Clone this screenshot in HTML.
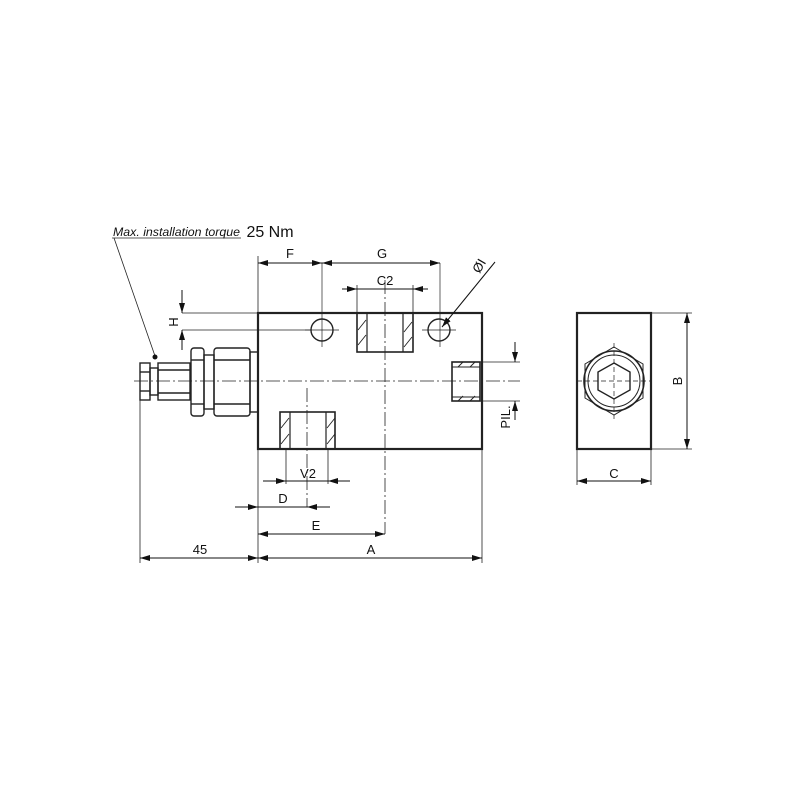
<!DOCTYPE html>
<html><head><style>html,body{margin:0;padding:0;background:#fff}svg{display:block}</style></head><body>
<svg width="800" height="800" viewBox="0 0 800 800" xmlns="http://www.w3.org/2000/svg" font-family="Liberation Sans, sans-serif">
<defs>
<marker id="a" viewBox="0 0 10 6" refX="10" refY="3" markerWidth="10" markerHeight="6" orient="auto-start-reverse" markerUnits="userSpaceOnUse"><path d="M0,0L10,3L0,6z" fill="#111"/></marker>
</defs>
<rect width="800" height="800" fill="#fff"/>
<g stroke="#222" fill="none">
<rect x="258" y="313" width="224" height="136" stroke-width="2.2"/>
<rect x="357" y="313" width="56" height="39" stroke-width="1.6"/>
<line x1="367" y1="313" x2="367" y2="352" stroke-width="1.2"/><line x1="403" y1="313" x2="403" y2="352" stroke-width="1.2"/>
<path d="M358,330l8,-10M358,345l8,-10M404,332l8,-10M404,347l8,-10" stroke-width="0.9"/>
<rect x="280" y="412" width="55" height="37" stroke-width="1.6"/>
<line x1="290" y1="412" x2="290" y2="449" stroke-width="1.2"/><line x1="326" y1="412" x2="326" y2="449" stroke-width="1.2"/>
<path d="M281,428l8,-10M281,444l8,-10M327,428l8,-10M327,444l8,-10" stroke-width="0.9"/>
<rect x="452" y="362" width="28" height="39" stroke-width="1.6"/>
<line x1="452" y1="367" x2="480" y2="367"/><line x1="452" y1="397" x2="480" y2="397"/>
<path d="M458,367l5,-5M470,367l5,-5M458,401l5,-5M470,401l5,-5" stroke-width="0.9"/>
<circle cx="322" cy="330" r="11" stroke-width="1.4"/>
<circle cx="439" cy="330" r="11" stroke-width="1.4"/>
<g stroke-width="0.7">
<line x1="305" y1="330" x2="339" y2="330"/><line x1="322" y1="263" x2="322" y2="347"/>
<line x1="422" y1="330" x2="456" y2="330"/><line x1="440" y1="263" x2="440" y2="347"/>
</g>
<g stroke-width="1.4">
<rect x="140" y="363" width="10" height="37"/>
<line x1="140" y1="372" x2="150" y2="372"/><line x1="140" y1="391" x2="150" y2="391"/>
<rect x="150" y="368" width="8" height="27"/>
<rect x="158" y="363" width="32" height="37"/>
<line x1="158" y1="370" x2="190" y2="370"/><line x1="158" y1="393" x2="190" y2="393"/>
<rect x="191" y="348" width="13" height="68" rx="3"/>
<line x1="191" y1="360" x2="204" y2="360"/><line x1="191" y1="404" x2="204" y2="404"/>
<rect x="204" y="355" width="10" height="54"/>
<rect x="214" y="348" width="36" height="68" rx="3"/>
<line x1="214" y1="360" x2="250" y2="360"/><line x1="214" y1="404" x2="250" y2="404"/>
<rect x="250" y="352" width="8" height="60"/>
</g>
<g stroke-width="0.8" stroke-dasharray="14,3,2,3">
<line x1="134" y1="381" x2="520" y2="381"/>
<line x1="385" y1="280" x2="385" y2="534"/>
<line x1="307" y1="388" x2="307" y2="507"/>
</g>
<rect x="577" y="313" width="74" height="136" stroke-width="2.2"/>
<circle cx="614" cy="381" r="30" stroke-width="1.6"/>
<polygon points="614,347 643,364 643,398 614,415 585,398 585,364" stroke-width="1"/>
<circle cx="614" cy="381" r="26" stroke-width="1"/>
<polygon points="614,363 630,372 630,390 614,399 598,390 598,372" stroke-width="1.4"/>
<line x1="577" y1="381" x2="651" y2="381" stroke-width="0.7" stroke-dasharray="5,3"/>
<line x1="614" y1="343" x2="614" y2="419" stroke-width="0.7" stroke-dasharray="5,3"/>
<g stroke-width="0.8">
<line x1="258" y1="256" x2="258" y2="313"/>
<line x1="182" y1="313" x2="258" y2="313"/><line x1="182" y1="330" x2="311" y2="330"/>
<line x1="413" y1="285" x2="413" y2="313"/><line x1="357" y1="285" x2="357" y2="313"/>
<line x1="480" y1="362" x2="520" y2="362"/><line x1="480" y1="401" x2="520" y2="401"/>
<line x1="140" y1="400" x2="140" y2="563"/>
<line x1="258" y1="449" x2="258" y2="563"/>
<line x1="482" y1="449" x2="482" y2="563"/>
<line x1="286" y1="449" x2="286" y2="484"/><line x1="328" y1="449" x2="328" y2="484"/>
<line x1="651" y1="313" x2="692" y2="313"/><line x1="651" y1="449" x2="692" y2="449"/>
<line x1="577" y1="449" x2="577" y2="485"/><line x1="651" y1="449" x2="651" y2="485"/>
</g>
<g stroke-width="1" stroke="#111">
<line x1="258" y1="263" x2="322" y2="263" marker-start="url(#a)" marker-end="url(#a)"/>
<line x1="322" y1="263" x2="440" y2="263" marker-start="url(#a)" marker-end="url(#a)"/>
<line x1="342" y1="289" x2="357" y2="289" marker-end="url(#a)"/>
<line x1="428" y1="289" x2="413" y2="289" marker-end="url(#a)"/>
<line x1="357" y1="289" x2="413" y2="289"/>
<line x1="182" y1="290" x2="182" y2="313" marker-end="url(#a)"/>
<line x1="182" y1="350" x2="182" y2="330" marker-end="url(#a)"/>
<line x1="515" y1="342" x2="515" y2="362" marker-end="url(#a)"/>
<line x1="515" y1="420" x2="515" y2="401" marker-end="url(#a)"/>
<line x1="263" y1="481" x2="286" y2="481" marker-end="url(#a)"/>
<line x1="350" y1="481" x2="328" y2="481" marker-end="url(#a)"/>
<line x1="286" y1="481" x2="328" y2="481"/>
<line x1="235" y1="507" x2="258" y2="507" marker-end="url(#a)"/>
<line x1="330" y1="507" x2="307" y2="507" marker-end="url(#a)"/>
<line x1="258" y1="507" x2="307" y2="507"/>
<line x1="258" y1="534" x2="385" y2="534" marker-start="url(#a)" marker-end="url(#a)"/>
<line x1="140" y1="558" x2="258" y2="558" marker-start="url(#a)" marker-end="url(#a)"/>
<line x1="258" y1="558" x2="482" y2="558" marker-start="url(#a)" marker-end="url(#a)"/>
<line x1="687" y1="313" x2="687" y2="449" marker-start="url(#a)" marker-end="url(#a)"/>
<line x1="577" y1="481" x2="651" y2="481" marker-start="url(#a)" marker-end="url(#a)"/>
<line x1="495" y1="262" x2="442" y2="327" marker-end="url(#a)"/>
</g>
<line x1="112" y1="238" x2="241" y2="238" stroke-width="0.8"/>
<line x1="114" y1="238" x2="155" y2="356" stroke-width="0.8"/>
</g>
<circle cx="155" cy="357" r="2.5" fill="#111"/>
<g fill="#111" font-size="13" text-anchor="middle">
<text x="113" y="236" font-size="11.5" font-style="italic" text-anchor="start" textLength="127" lengthAdjust="spacingAndGlyphs">Max. installation torque</text>
<text x="270" y="237" font-size="16" text-anchor="middle">25 Nm</text>
<text x="290" y="258">F</text>
<text x="382" y="258">G</text>
<text x="385" y="285">C2</text>
<text x="178" y="322" transform="rotate(-90 178 322)">H</text>
<text x="483" y="268" transform="rotate(-60 483 268)">ØI</text>
<text x="510" y="417" transform="rotate(-90 510 417)">PIL.</text>
<text x="308" y="478">V2</text>
<text x="283" y="503">D</text>
<text x="316" y="530">E</text>
<text x="200" y="554">45</text>
<text x="371" y="554">A</text>
<text x="682" y="381" transform="rotate(-90 682 381)">B</text>
<text x="614" y="478">C</text>
</g>
</svg>
</body></html>
